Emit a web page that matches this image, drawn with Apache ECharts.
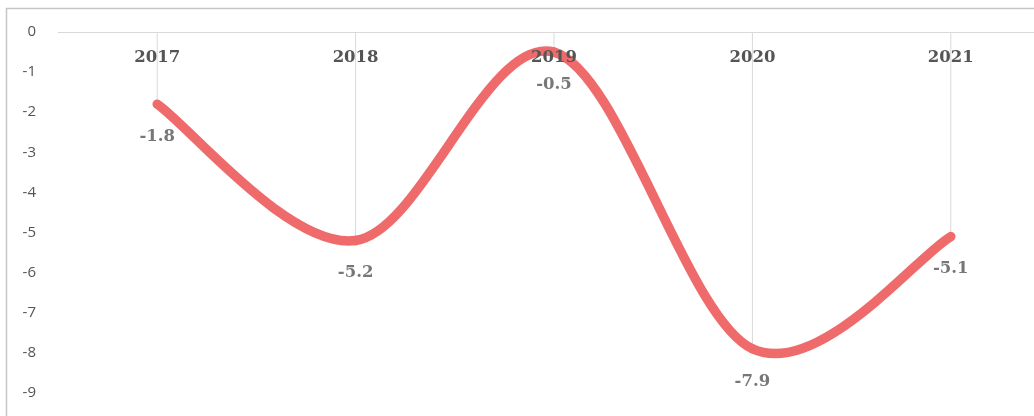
<!DOCTYPE html>
<html>
<head>
<meta charset="utf-8">
<script src="https://cdn.jsdelivr.net/npm/echarts@6/dist/echarts.min.js"></script>
<style>
  html, body { margin: 0; padding: 0; background: #fff; }
  #chart { width: 1034px; height: 416px; }
</style>
</head>
<body>
<div id="chart"></div>
<script>
// Yearly values (negative change), one per year
const years = ['2017', '2018', '2019', '2020', '2021'];
const values = [-1.8, -5.2, -0.5, -7.9, -5.1];
const yTicks = { min: -10, max: 0, step: 1 };

const chart = echarts.init(document.getElementById('chart'), null, { renderer: 'canvas' });

const textGray = '#555555';
const lineColor = '#EF6B6B';

// Smooth curve through the data points (cardinal spline, tension 1/6),
// built from pixel positions given by the axes.
function renderCurve(params, api) {
  if (params.dataIndex !== 0) return null;
  const pts = values.map((v, i) => api.coord([i, v]));
  const n = pts.length;
  const children = [];
  for (let i = 0; i < n - 1; i++) {
    const p0 = pts[i - 1] || pts[i];
    const p1 = pts[i];
    const p2 = pts[i + 1];
    const p3 = pts[i + 2] || pts[i + 1];
    children.push({
      type: 'bezierCurve',
      shape: {
        x1: p1[0], y1: p1[1],
        cpx1: p1[0] + (p2[0] - p0[0]) / 6, cpy1: p1[1] + (p2[1] - p0[1]) / 6,
        cpx2: p2[0] - (p3[0] - p1[0]) / 6, cpy2: p2[1] - (p3[1] - p1[1]) / 6,
        x2: p2[0], y2: p2[1]
      },
      style: { fill: null, stroke: lineColor, lineWidth: 9.5, lineCap: 'round', lineJoin: 'round' }
    });
  }
  return { type: 'group', children };
}

chart.setOption({
  animation: false,
  backgroundColor: '#ffffff',
  graphic: [{
    type: 'rect',
    shape: { x: 6.5, y: 8.5, width: 1100, height: 500 },
    style: { fill: 'none', stroke: '#c6c6c6', lineWidth: 1.5 },
    silent: true
  }],
  grid: {
    left: 58, right: -16, top: 32, bottom: -17,
    containLabel: false,
    outerBoundsMode: 'none'
  },
  xAxis: {
    type: 'category',
    data: years,
    boundaryGap: true,
    position: 'top',
    z: 5,
    axisLine: { show: true, onZero: false, lineStyle: { color: '#d9d9d9', width: 1 } },
    axisTick: { show: false },
    splitLine: { show: false },
    axisLabel: {
      inside: true,
      margin: 17,
      color: textGray,
      fontFamily: 'DejaVu Serif',
      fontWeight: 'bold',
      fontSize: 16.5
    }
  },
  yAxis: {
    type: 'value',
    min: yTicks.min,
    max: yTicks.max,
    interval: yTicks.step,
    axisLine: { show: false },
    axisTick: { show: false },
    splitLine: { show: false },
    axisLabel: {
      margin: 22,
      color: textGray,
      fontFamily: 'Open Sans',
      fontSize: 15
    }
  },
  series: [
    {
      // drop lines from the zero axis down to each point
      type: 'bar',
      data: values,
      barWidth: 1,
      itemStyle: { color: '#d9d9d9' },
      silent: true,
      z: 1
    },
    {
      type: 'custom',
      data: values.map((v, i) => [i, v]),
      renderItem: renderCurve,
      silent: true,
      z: 3
    },
    {
      // value labels under each point
      type: 'scatter',
      data: values,
      symbolSize: 0.01,
      itemStyle: { color: 'rgba(0,0,0,0)' },
      label: {
        show: true,
        position: 'bottom',
        distance: 24,
        color: textGray,
        fontFamily: 'DejaVu Serif',
        fontWeight: 'bold',
        fontSize: 16.5,
        formatter: p => p.value.toFixed(1)
      },
      silent: true,
      z: 4
    }
  ]
});
</script>
</body>
</html>
